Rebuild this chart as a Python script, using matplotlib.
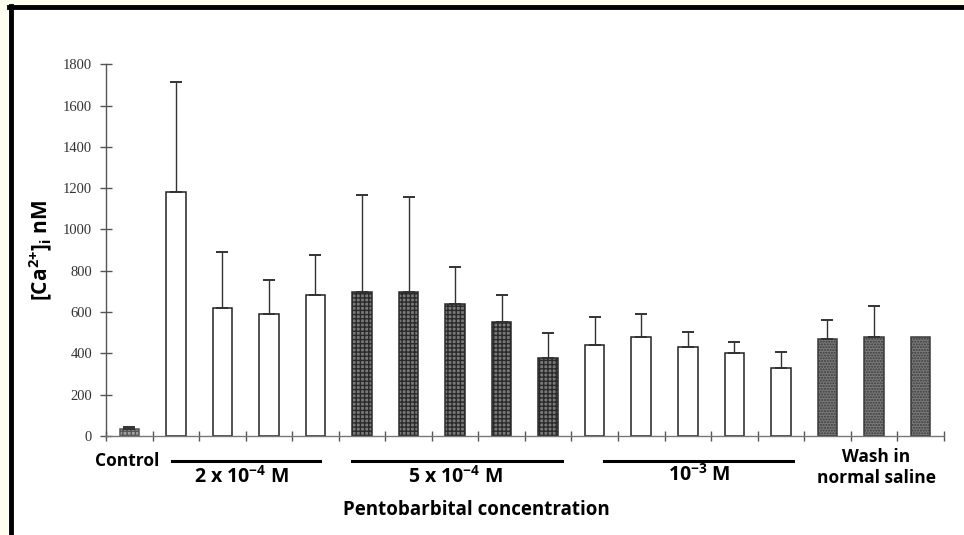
import matplotlib.pyplot as plt
import matplotlib.transforms as mtransforms
from matplotlib.lines import Line2D
from matplotlib.patches import Rectangle

# [Ca2+]i per condition (nM) and the upper SD bar
means = [35, 1180, 620, 590, 685, 695, 695, 640, 550, 380,
         440, 480, 430, 400, 330, 470, 480, 478]
errors = [10, 535, 270, 165, 190, 470, 460, 180, 135, 120,
          135, 110, 75, 55, 75, 90, 150, 0]
groups = ["control", "2e-4", "2e-4", "2e-4", "2e-4",
          "5e-4", "5e-4", "5e-4", "5e-4", "5e-4",
          "1e-3", "1e-3", "1e-3", "1e-3", "1e-3",
          "wash", "wash", "wash"]
yticks = [0, 200, 400, 600, 800, 1000, 1200, 1400, 1600, 1800]

styles = {
    "control": dict(facecolor="#a0a0a0", hatch="++++", edgecolor="#555555"),
    "2e-4": dict(facecolor="white", edgecolor="#222222"),
    "5e-4": dict(facecolor="#7a7a7a", hatch="++++", edgecolor="#2a2a2a"),
    "1e-3": dict(facecolor="white", edgecolor="#222222"),
    "wash": dict(facecolor="#7a7a7a", hatch="......", edgecolor="#3a3a3a"),
}

plt.rcParams["mathtext.fontset"] = "custom"
plt.rcParams["mathtext.rm"] = "Open Sans:bold"
plt.rcParams["mathtext.it"] = "Open Sans:bold"
plt.rcParams["mathtext.bf"] = "Open Sans:bold"
label_font = ["Open Sans", "DejaVu Sans"]

fig = plt.figure(figsize=(9.64, 5.35), dpi=100)
fig.patch.set_facecolor("white")
ax = fig.add_axes([0.110, 0.185, 0.869, 0.695])

x = list(range(len(means)))
for i in x:
    ax.bar(i, means[i], width=0.42, linewidth=1.1, zorder=2, **styles[groups[i]])
    if errors[i] > 0:
        ax.errorbar(i, means[i], yerr=[[0], [errors[i]]], fmt="none",
                    ecolor="#333333", elinewidth=1.0, capsize=4, capthick=1.4, zorder=3)

ax.set_xlim(-0.5, len(means) - 0.5)
ax.set_ylim(0, 1800)
ax.set_yticks(yticks)
ax.set_xticks([i - 0.5 for i in range(len(means) + 1)])
ax.set_xticklabels([])
ax.tick_params(axis="x", direction="inout", length=7, width=1.0, color="#555555")
ax.tick_params(axis="y", direction="inout", length=8, width=1.0, color="#555555",
               labelsize=10.5, labelcolor="#333333", pad=6)
for lab in ax.get_yticklabels():
    lab.set_fontfamily("Liberation Serif")

for side in ["top", "right"]:
    ax.spines[side].set_visible(False)
ax.spines["left"].set_color("#555555")
ax.spines["bottom"].set_color("#777777")
ax.spines["left"].set_linewidth(1.0)
ax.spines["bottom"].set_linewidth(1.0)

ax.set_ylabel(r"[Ca$^{2{+}}$]$_{i}$ nM", fontsize=15, fontweight="bold",
              family=label_font, labelpad=6)

# group labels under the axis
trans = mtransforms.blended_transform_factory(ax.transData, ax.transAxes)
for x0, x1 in [(0.92, 4.1), (4.78, 9.3), (10.2, 14.25)]:
    ax.add_line(Line2D([x0, x1], [-0.068, -0.068], transform=trans, color="black",
                       linewidth=2.2, clip_on=False))

ax.text(-0.05, -0.068, "Control", transform=trans, ha="center", va="center",
        fontsize=12.5, fontweight="bold", family=label_font)
ax.text(2.4, -0.11, r"2 x 10$^{-4}$ M", transform=trans, ha="center",
        va="center", fontsize=14, fontweight="bold", family=label_font)
ax.text(7.0, -0.11, r"5 x 10$^{-4}$ M", transform=trans, ha="center",
        va="center", fontsize=14, fontweight="bold", family=label_font)
ax.text(12.25, -0.105, r"10$^{-3}$ M", transform=trans, ha="center",
        va="center", fontsize=14, fontweight="bold", family=label_font)
ax.text(16.05, -0.085, "Wash in\nnormal saline", transform=trans, ha="center",
        va="center", fontsize=12.5, fontweight="bold", family=label_font, linespacing=1.25)
ax.text(7.45, -0.2, "Pentobarbital concentration", transform=trans, ha="center",
        va="center", fontsize=13.5, fontweight="bold", family=label_font)

# cream margin and black frame lines of the scanned figure
fig.add_artist(Rectangle((0, 1 - 5 / 535), 1, 5 / 535, transform=fig.transFigure,
                         facecolor="#fffdf0", edgecolor="none"))
fig.add_artist(Rectangle((0, 0), 8 / 964, 1, transform=fig.transFigure,
                         facecolor="#fffdf0", edgecolor="none"))
fig.add_artist(Line2D([9 / 964, 1.0], [1 - 7 / 535, 1 - 7 / 535], transform=fig.transFigure,
                      color="black", linewidth=3.5))
fig.add_artist(Line2D([11 / 964, 11 / 964], [0.0, 1 - 6 / 535], transform=fig.transFigure,
                      color="black", linewidth=3.5))

fig.savefig("out.png", dpi=100)
